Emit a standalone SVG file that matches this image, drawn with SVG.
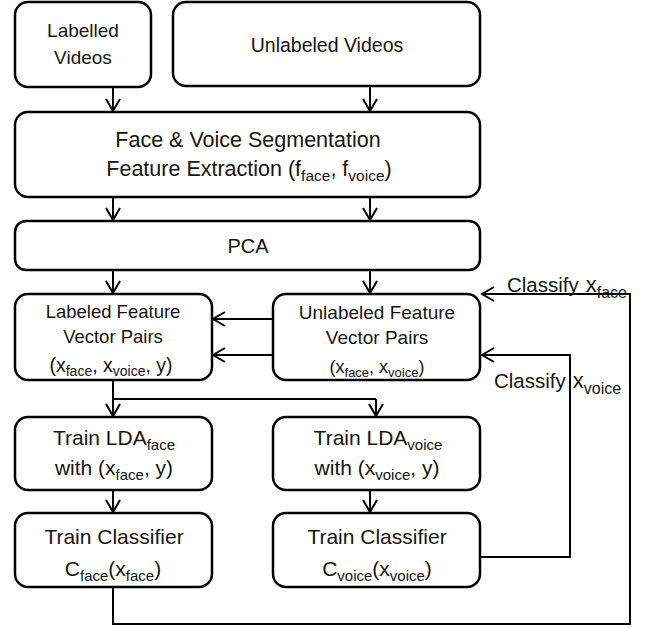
<svg xmlns="http://www.w3.org/2000/svg" width="653" height="628" viewBox="0 0 653 628">
<style>
.box{fill:#fff;stroke:#000;stroke-width:2.5}
.t{font-family:"Liberation Sans",Arial,sans-serif;fill:#141414;text-anchor:middle}
.l{font-family:"Liberation Sans",Arial,sans-serif;fill:#141414}
.c{fill:none;stroke:#000;stroke-width:2}
</style>
<defs>
<marker id="arr" markerWidth="16" markerHeight="18" viewBox="-14 -9 16 18" refX="0" refY="0" orient="auto" markerUnits="userSpaceOnUse">
<path d="M-12,-7 L0,0 L-12,7" fill="none" stroke="#000" stroke-width="2"/>
</marker>
</defs>
<rect width="653" height="628" fill="#fff"/>

<g id="connectors">
<line class="c" x1="113" y1="87" x2="113" y2="111" marker-end="url(#arr)"/>
<line class="c" x1="370" y1="86" x2="370" y2="111" marker-end="url(#arr)"/>
<line class="c" x1="113" y1="197" x2="113" y2="220" marker-end="url(#arr)"/>
<line class="c" x1="370" y1="197" x2="370" y2="220" marker-end="url(#arr)"/>
<line class="c" x1="113" y1="270" x2="113" y2="293" marker-end="url(#arr)"/>
<line class="c" x1="370" y1="270" x2="370" y2="293" marker-end="url(#arr)"/>
<line class="c" x1="272" y1="319" x2="213" y2="319" marker-end="url(#arr)"/>
<line class="c" x1="272" y1="355" x2="213" y2="355" marker-end="url(#arr)"/>
<polyline class="c" points="113,380 113,399 376,399"/>
<line class="c" x1="113" y1="399" x2="113" y2="416" marker-end="url(#arr)"/>
<line class="c" x1="376" y1="399" x2="376" y2="416" marker-end="url(#arr)"/>
<line class="c" x1="113" y1="490" x2="113" y2="512" marker-end="url(#arr)"/>
<line class="c" x1="370" y1="490" x2="370" y2="512" marker-end="url(#arr)"/>
<polyline class="c" points="113,587 113,624 630,624 630,294 482,294" marker-end="url(#arr)"/>
<polyline class="c" points="480,557 570,557 570,355 482,355" marker-end="url(#arr)"/>
<text class="l" x="507" y="292" font-size="20.5">Classify<tspan dx="7" font-size="22">x</tspan><tspan font-size="16" dy="6">face</tspan></text>
<text class="l" x="494" y="388" font-size="20.5">Classify<tspan dx="7" font-size="22">x</tspan><tspan font-size="16" dy="6">voice</tspan></text>
</g>

<g id="labelled-videos">
<rect class="box" x="15" y="2" width="136" height="85" rx="13"/>
<text class="t" x="83" y="37" font-size="19">Labelled</text>
<text class="t" x="83" y="64" font-size="19">Videos</text>
</g>

<g id="unlabeled-videos">
<rect class="box" x="173" y="2" width="307" height="84" rx="13"/>
<text class="t" x="327" y="52" font-size="19.5">Unlabeled Videos</text>
</g>

<g id="segmentation">
<rect class="box" x="15" y="112" width="465" height="85" rx="13"/>
<text class="t" x="248" y="147" font-size="21.5">Face &amp; Voice Segmentation</text>
<text class="t" x="249" y="176" font-size="21.5">Feature Extraction (f<tspan font-size="15.5" dy="5">face</tspan><tspan dy="-5">, f</tspan><tspan font-size="15.5" dy="5">voice</tspan><tspan dy="-5">)</tspan></text>
</g>

<g id="pca">
<rect class="box" x="15" y="221" width="465" height="49" rx="11"/>
<text class="t" x="248" y="253" font-size="20">PCA</text>
</g>

<g id="labeled-feature">
<rect class="box" x="15" y="294" width="197" height="86" rx="13"/>
<text class="t" x="113" y="318" font-size="18.5">Labeled Feature</text>
<text class="t" x="113" y="343" font-size="18.5">Vector Pairs</text>
<text class="t" x="111" y="372" font-size="19.5">(x<tspan font-size="14" dy="4">face</tspan><tspan dy="-4">, x</tspan><tspan font-size="14" dy="4">voice</tspan><tspan dy="-4">, y)</tspan></text>
</g>

<g id="unlabeled-feature">
<rect class="box" x="273" y="294" width="207" height="86" rx="13"/>
<text class="t" x="377" y="319" font-size="19">Unlabeled Feature</text>
<text class="t" x="377" y="344" font-size="19">Vector Pairs</text>
<text class="t" x="377" y="373" font-size="18">(x<tspan font-size="13" dy="4">face</tspan><tspan dy="-4">, x</tspan><tspan font-size="13" dy="4">voice</tspan><tspan dy="-4">)</tspan></text>
</g>

<g id="lda-face">
<rect class="box" x="15" y="417" width="197" height="73" rx="13"/>
<text class="t" x="114" y="445" font-size="21">Train LDA<tspan font-size="15" dy="5">face</tspan></text>
<text class="t" x="114" y="475" font-size="21">with (x<tspan font-size="15" dy="5">face</tspan><tspan dy="-5">, y)</tspan></text>
</g>

<g id="lda-voice">
<rect class="box" x="273" y="417" width="207" height="73" rx="13"/>
<text class="t" x="378" y="445" font-size="21">Train LDA<tspan font-size="15" dy="5">voice</tspan></text>
<text class="t" x="377" y="475" font-size="21">with (x<tspan font-size="15" dy="5">voice</tspan><tspan dy="-5">, y)</tspan></text>
</g>

<g id="classifier-face">
<rect class="box" x="15" y="513" width="197" height="74" rx="13"/>
<text class="t" x="114" y="544" font-size="21">Train Classifier</text>
<text class="t" x="113" y="576" font-size="21">C<tspan font-size="15" dy="5">face</tspan><tspan dy="-5">(x</tspan><tspan font-size="15" dy="5">face</tspan><tspan dy="-5">)</tspan></text>
</g>

<g id="classifier-voice">
<rect class="box" x="273" y="513" width="207" height="74" rx="13"/>
<text class="t" x="377" y="544" font-size="21">Train Classifier</text>
<text class="t" x="377" y="576" font-size="21">C<tspan font-size="15" dy="5">voice</tspan><tspan dy="-5">(x</tspan><tspan font-size="15" dy="5">voice</tspan><tspan dy="-5">)</tspan></text>
</g>
</svg>
